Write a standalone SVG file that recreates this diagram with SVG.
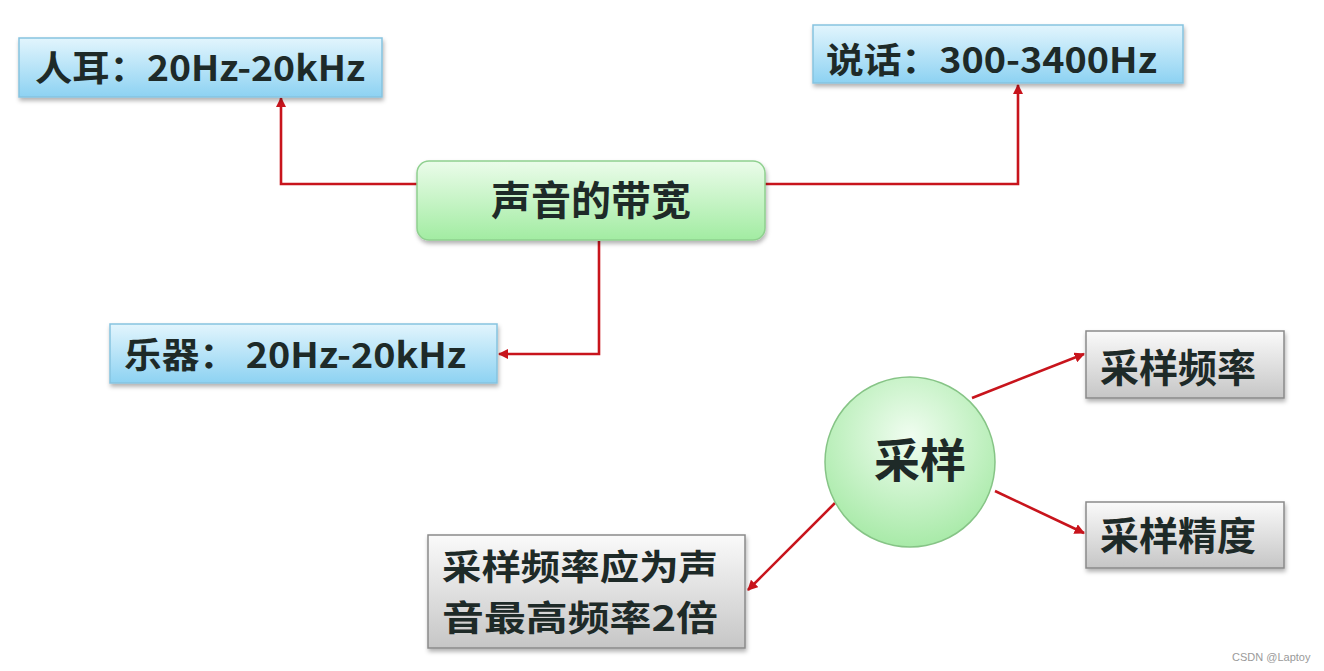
<svg xmlns="http://www.w3.org/2000/svg" width="1324" height="671" viewBox="0 0 1324 671">
<defs>
<linearGradient id="gBlue" x1="0" y1="0" x2="0" y2="1"><stop offset="0" stop-color="#e2f5fd"/><stop offset="1" stop-color="#8dd2f2"/></linearGradient>
<linearGradient id="gGreen" x1="0" y1="0" x2="0" y2="1"><stop offset="0" stop-color="#ebfcea"/><stop offset="1" stop-color="#a2eca2"/></linearGradient>
<linearGradient id="gGray" x1="0" y1="0" x2="0" y2="1"><stop offset="0" stop-color="#fafafa"/><stop offset="1" stop-color="#c6c6c6"/></linearGradient>
<radialGradient id="gCircle" cx="0.5" cy="0.35" r="0.65"><stop offset="0" stop-color="#f0fdf0"/><stop offset="1" stop-color="#a8eaa8"/></radialGradient>
<filter id="sh" x="-10%" y="-10%" width="120%" height="130%"><feDropShadow dx="1" dy="3" stdDeviation="2" flood-color="#000" flood-opacity="0.3"/></filter>
<marker id="arr" viewBox="0 0 10 10" refX="9" refY="5" markerWidth="4" markerHeight="4" orient="auto-start-reverse" markerUnits="strokeWidth"><path d="M0,0 L10,5 L0,10 z" fill="#c8141c"/></marker>
<style>
.t{font-family:"Noto Sans CJK SC","Noto Sans",sans-serif;font-weight:bold;fill:#1e2a28}
.blue{fill:url(#gBlue);stroke:#86c3df;stroke-width:1.5;filter:url(#sh)}
.green{fill:url(#gGreen);stroke:#8fd08f;stroke-width:1.5;filter:url(#sh)}
.gray{fill:url(#gGray);stroke:#8a8a8a;stroke-width:1.5;filter:url(#sh)}
.c{fill:none;stroke:#c8141c;stroke-width:2.6;marker-end:url(#arr)}
</style>
</defs>
<rect width="1324" height="671" fill="#ffffff"/>
<g id="connectors">
<path class="c" d="M417,184 H281 V98"/>
<path class="c" d="M765,184 H1018 V85"/>
<path class="c" d="M599,241 V354 H499"/>
<path class="c" d="M972,398 L1084,354"/>
<path class="c" d="M995,491 L1084,533"/>
<path class="c" d="M835,503 L748,590"/>
</g>
<g id="n-renear">
<rect class="blue" x="19" y="38" width="363" height="59"/>
<text class="t" x="35" y="81" font-size="35" textLength="330" lengthAdjust="spacingAndGlyphs">人耳：20Hz-20kHz</text>
</g>
<g id="n-shuohua">
<rect class="blue" x="813" y="25" width="370" height="58"/>
<text class="t" x="826" y="73" font-size="35" textLength="331" lengthAdjust="spacingAndGlyphs">说话：300-3400Hz</text>
</g>
<g id="n-center">
<rect class="green" x="417" y="161" width="348" height="79" rx="12" ry="12"/>
<text class="t" x="591" y="215" font-size="40" text-anchor="middle">声音的带宽</text>
</g>
<g id="n-yueqi">
<rect class="blue" x="110" y="324" width="387" height="59"/>
<text class="t" x="124" y="368" font-size="35" textLength="342" lengthAdjust="spacingAndGlyphs">乐器： 20Hz-20kHz</text>
</g>
<g id="n-caiyang">
<circle cx="910" cy="462" r="85" fill="url(#gCircle)" stroke="#86c486" stroke-width="1.5"/>
<text class="t" x="920" y="477" font-size="46" text-anchor="middle">采样</text>
</g>
<g id="n-pinlv">
<rect class="gray" x="1086" y="331" width="198" height="67"/>
<text class="t" x="1178" y="382" font-size="39" text-anchor="middle">采样频率</text>
</g>
<g id="n-jingdu">
<rect class="gray" x="1086" y="502" width="198" height="66"/>
<text class="t" x="1178" y="550" font-size="39" text-anchor="middle">采样精度</text>
</g>
<g id="n-rule">
<rect class="gray" x="428" y="535" width="317" height="113"/>
<text class="t" x="442" y="580" font-size="35" textLength="276" lengthAdjust="spacingAndGlyphs">采样频率应为声</text>
<text class="t" x="442" y="631" font-size="35" textLength="276" lengthAdjust="spacingAndGlyphs">音最高频率2倍</text>
</g>
<text x="1232" y="661" font-family="'Liberation Sans',sans-serif" font-size="11" fill="#9a9a9a">CSDN @Laptoy</text>
</svg>
